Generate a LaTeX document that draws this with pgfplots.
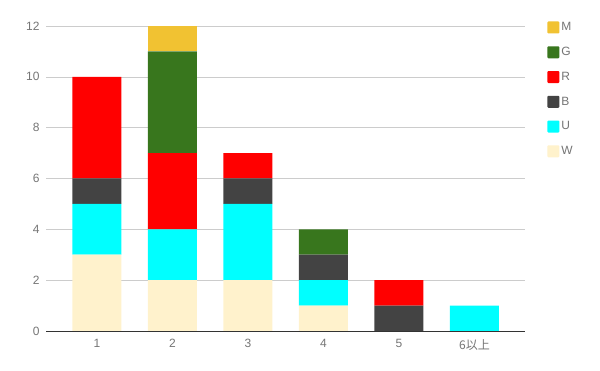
\documentclass[border=0pt]{standalone}
\usepackage{fontspec}
\setmainfont{Liberation Sans}
\newfontfamily\cjk{Noto Sans CJK JP}
\usepackage{pgfplots}
\pgfplotsset{compat=1.18}
\definecolor{cW}{HTML}{FFF2CC}
\definecolor{cU}{HTML}{00FFFF}
\definecolor{cB}{HTML}{434343}
\definecolor{cR}{HTML}{FF0000}
\definecolor{cG}{HTML}{38761D}
\definecolor{cM}{HTML}{F1C232}
\definecolor{tgray}{HTML}{757575}
\begin{document}
\begin{tikzpicture}
\path[use as bounding box] (0,0) rectangle (600pt,371pt);
\begin{axis}[
  at={(46pt,40pt)}, anchor=south west,
  scale only axis, width=479pt, height=305pt,
  ybar stacked, bar width=49pt,
  xmin=-0.675, xmax=5.67, ymin=0, ymax=12,
  xtick={0,1,2,3,4,5},
  xticklabels={1,2,3,4,5,{\cjk 6以上}},
  ytick={0,2,4,6,8,10,12},
  axis x line*=bottom, axis y line*=left,
  x axis line style={draw=black!80, line width=0.8pt, -},
  y axis line style={draw=none},
  ymajorgrids, grid style={draw=black!20, line width=0.6pt},
  major tick length=0pt,
  tick label style={font=\fontsize{12}{14}\selectfont, text=tgray},
  /pgf/number format/assume math mode=true,
  yticklabel style={xshift=-3pt},
  xticklabel style={yshift=-5pt},
  ytick style={draw=none}, xtick style={draw=none},
  legend cell align=left, reverse legend,
  legend style={at={(rel axis cs:1.04,1.025)}, anchor=north west, draw=none,
    font=\fontsize{12}{14}\selectfont, text=tgray, row sep=11pt,
    /tikz/every even column/.append style={column sep=6pt}},
  legend image code/.code={\fill[#1, rounded corners=1pt] (0pt,-6pt) rectangle (12pt,6pt);},
  clip=false,
]
\addplot[fill=cW, draw=none] coordinates {(0,3) (1,2) (2,2) (3,1) (4,0) (5,0)};
\addlegendentry{W}
\addplot[fill=cU, draw=none] coordinates {(0,2) (1,2) (2,3) (3,1) (4,0) (5,1)};
\addlegendentry{U}
\addplot[fill=cB, draw=none] coordinates {(0,1) (1,0) (2,1) (3,1) (4,1) (5,0)};
\addlegendentry{B}
\addplot[fill=cR, draw=none] coordinates {(0,4) (1,3) (2,1) (3,0) (4,1) (5,0)};
\addlegendentry{R}
\addplot[fill=cG, draw=none] coordinates {(0,0) (1,4) (2,0) (3,1) (4,0) (5,0)};
\addlegendentry{G}
\addplot[fill=cM, draw=none] coordinates {(0,0) (1,1) (2,0) (3,0) (4,0) (5,0)};
\addlegendentry{M}
\end{axis}
\end{tikzpicture}
\end{document}
